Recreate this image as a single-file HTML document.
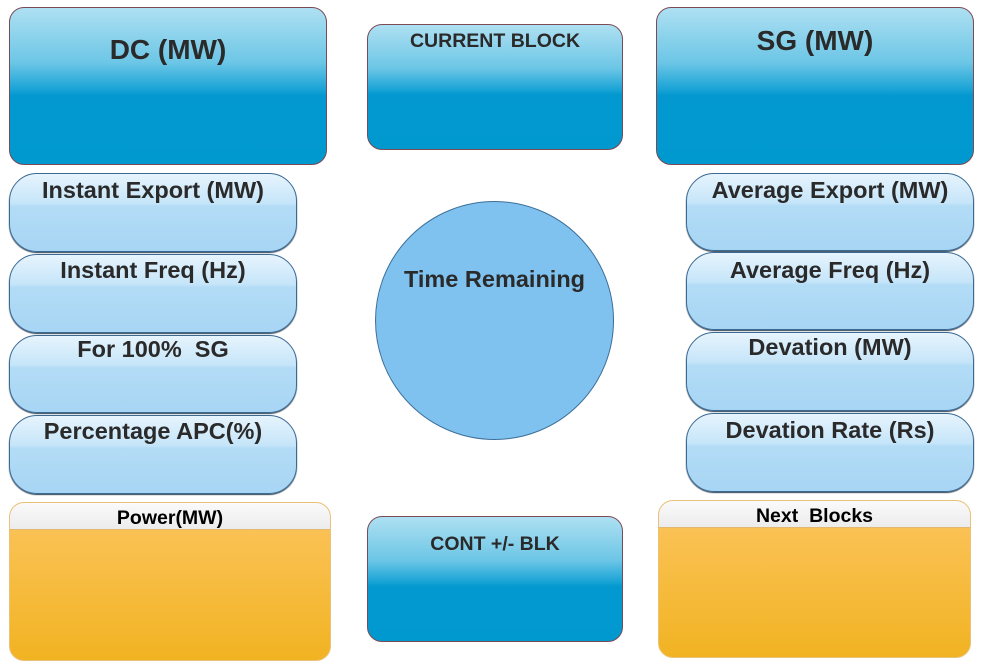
<!DOCTYPE html>
<html><head><style>
body{margin:0;width:983px;height:667px;background:#fff;position:relative;overflow:hidden;font-family:"Liberation Sans",sans-serif;font-weight:bold;color:#2a2a2a}
.b{position:absolute;box-sizing:border-box;text-align:center;white-space:nowrap}
.blue{border:1px solid #7a4a55;border-radius:15px;background:linear-gradient(to bottom,#aee0f2 0%,#6cc6e6 35%,#1aa4d6 52%,#0399d0 56%,#0099cf 100%)}
.pill{border:1.5px solid #3a6a94;border-radius:28px;background:linear-gradient(to bottom,#e6f4fd 0%,#c6e5f9 38%,#b3dcf6 42%,#a7d5f4 100%);box-shadow:0 1px 1px #345;font-size:23.5px}
.or{border:1px solid #e8c27a;border-radius:15px;background:linear-gradient(to bottom,#fcc55f 0%,#f1b322 100%);overflow:hidden}
.or .h{height:26px;background:linear-gradient(#fafafa,#ececec);border-bottom:1px solid #e5b870;color:#000;font-size:19.5px;line-height:30px}
</style></head><body>
<div class="b blue" style="left:9px;top:7px;width:318px;height:158px;font-size:28px;padding-top:26px">DC (MW)</div>
<div class="b blue" style="left:367px;top:24px;width:256px;height:126px;font-size:19.5px;padding-top:5px">CURRENT BLOCK</div>
<div class="b blue" style="left:656px;top:7px;width:318px;height:158px;font-size:28px;padding-top:17px">SG (MW)</div>

<div class="b pill" style="left:9px;top:173px;width:288px;height:79px;padding-top:3px">Instant Export (MW)</div>
<div class="b pill" style="left:9px;top:254px;width:288px;height:79px;padding-top:2px">Instant Freq (Hz)</div>
<div class="b pill" style="left:9px;top:335px;width:288px;height:78px;padding-top:-1px">For 100%&nbsp; SG</div>
<div class="b pill" style="left:9px;top:415px;width:288px;height:79px;padding-top:2px">Percentage APC(%)</div>

<div class="b pill" style="left:686px;top:173px;width:288px;height:78px;padding-top:3px">Average Export (MW)</div>
<div class="b pill" style="left:686px;top:252px;width:288px;height:78px;padding-top:4px">Average Freq (Hz)</div>
<div class="b pill" style="left:686px;top:332px;width:288px;height:79px;padding-top:1px">Devation (MW)</div>
<div class="b pill" style="left:686px;top:413px;width:288px;height:79px;padding-top:3px">Devation Rate (Rs)</div>

<div class="b" style="left:375px;top:201px;width:239px;height:239px;border-radius:50%;border:1px solid #3d6f99;background:#7fc2ef;font-size:23.5px;padding-top:64px">Time Remaining</div>

<div class="b or" style="left:9px;top:502px;width:322px;height:159px"><div class="h">Power(MW)</div></div>
<div class="b or" style="left:658px;top:500px;width:313px;height:158px"><div class="h">Next&nbsp; Blocks</div></div>
<div class="b blue" style="left:367px;top:516px;width:256px;height:126px;font-size:19.5px;padding-top:16px">CONT +/- BLK</div>
</body></html>
